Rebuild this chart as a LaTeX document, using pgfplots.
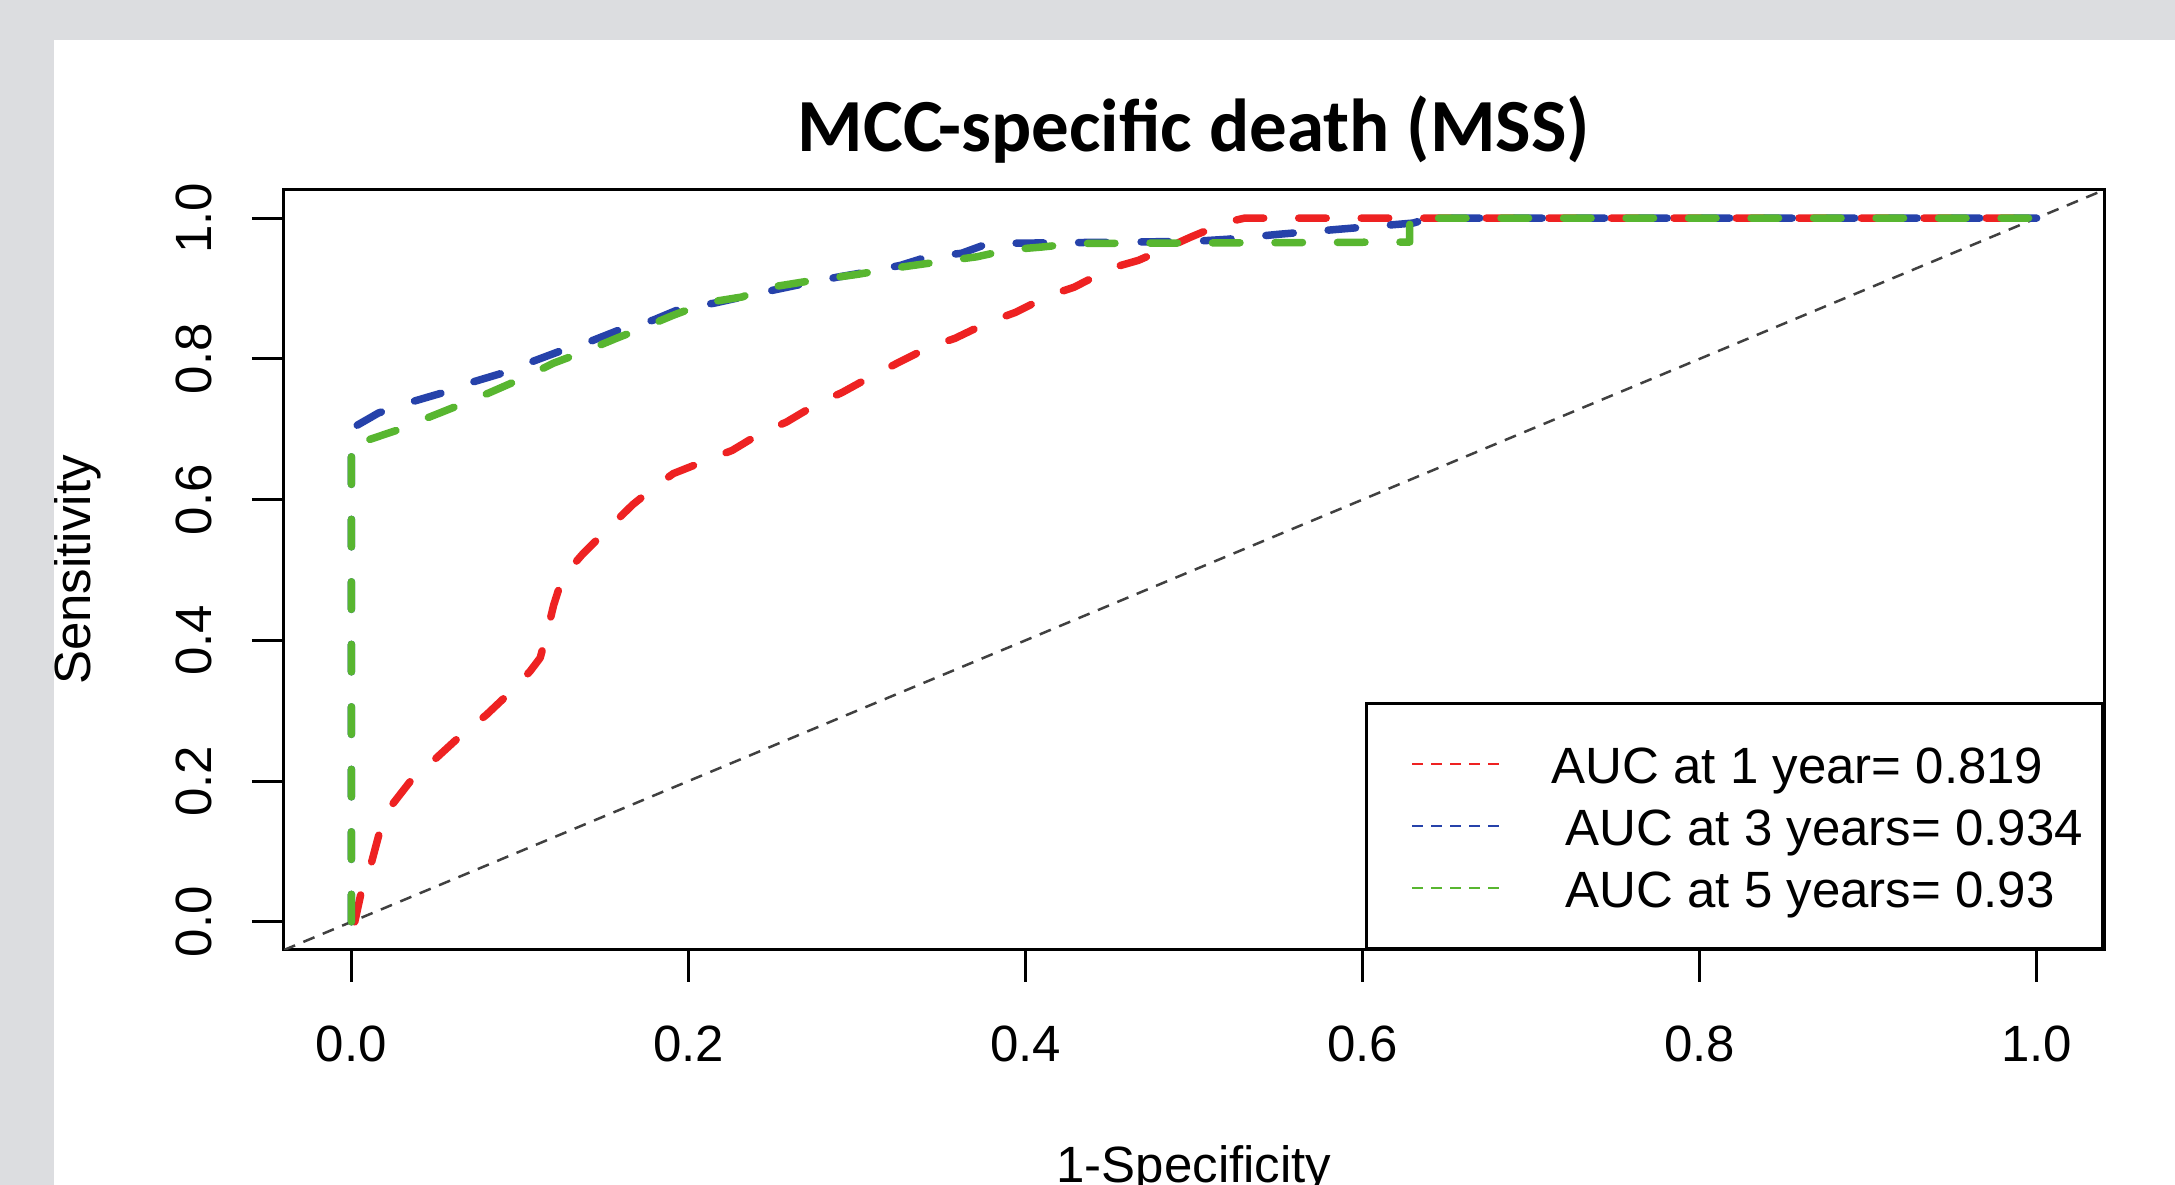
\documentclass[border=0pt]{standalone}
\usepackage{fontspec}
\setmainfont{Liberation Sans}
\newfontfamily\titlefont{Carlito}
\usepackage{pgfplots}
\pgfplotsset{compat=1.18}

\definecolor{rocred}{RGB}{238,34,34}
\definecolor{rocblue}{RGB}{38,66,170}
\definecolor{rocgreen}{RGB}{88,182,48}
\definecolor{panelgray}{RGB}{220,221,224}

\begin{document}
\begin{tikzpicture}[font=\fontsize{10.2}{12}\selectfont]
\useasboundingbox (-56.8pt,-47pt) rectangle (378.2pt,190pt);
\clip (-56.8pt,-47pt) rectangle (378.2pt,190pt);
\fill[white] (-56.8pt,-47pt) rectangle (378.2pt,190pt);
\begin{axis}[
  at={(0,0)}, anchor=south west,
  scale only axis, width=364pt, height=152pt,
  xmin=-0.04, xmax=1.04, ymin=-0.04, ymax=1.04,
  xtick={0,0.2,0.4,0.6,0.8,1}, ytick={0,0.2,0.4,0.6,0.8,1},
  xticklabels={0.0,0.2,0.4,0.6,0.8,1.0},
  yticklabels={0.0,0.2,0.4,0.6,0.8,1.0},
  xtick pos=left, ytick pos=left,
  tick align=outside, major tick length=6.4pt,
  tick style={black, line width=0.6pt},
  axis line style={line width=0.6pt},
  xticklabel style={anchor=base},
  yticklabel style={rotate=90, anchor=base},
  xticklabel shift=16pt,
  yticklabel shift=8pt,
  title={MCC-specific death (MSS)},
  title style={at={(axis description cs:0.5,1)}, anchor=base, yshift=1.6pt,
    font=\titlefont\bfseries\fontsize{15}{16}\selectfont},
  xlabel={1-Specificity}, ylabel={Sensitivity},
  every axis x label/.style={at={(axis description cs:0.5,0)}, anchor=base, yshift=-46.5pt},
  every axis y label/.style={at={([xshift=-38.7pt]axis description cs:0,0.5)}, rotate=90, anchor=base},
  legend style={at={(rel axis cs:1,0)}, anchor=south east, draw=black, line width=0.6pt,
    fill=white, inner xsep=0pt, inner ysep=5.9pt, row sep=0pt,
    /tikz/every odd column/.append style={column sep=8.8pt},
    nodes={inner sep=0pt, text height=10.2pt, text depth=2.2pt}},
  legend cell align=left,
  legend image code/.code={
    \path[draw=none] (0pt,0pt) (9.2pt,0pt);
    \draw[#1, line width=0.45pt, dash pattern=on 2.2pt off 1.6pt, line cap=butt]
      (9.2pt,0pt) -- (28pt,0pt);},
  every axis plot/.append style={line width=1.5pt, dash pattern=on 5.5pt off 7pt,
    line cap=round, line join=round},
]
% reference diagonal
\addplot[black!75, line width=0.5pt, dash pattern=on 2.4pt off 1.8pt, line cap=butt, forget plot]
  coordinates {(-0.04,-0.04) (1.04,1.04)};

% 1 year
\addplot[rocred] coordinates {
  (0.002,0) (0.006,0.044) (0.012,0.085) (0.017,0.130) (0.024,0.166) (0.037,0.206)
  (0.050,0.232) (0.065,0.265) (0.080,0.294) (0.095,0.328) (0.106,0.356) (0.112,0.375)
  (0.116,0.410) (0.120,0.450) (0.124,0.480) (0.129,0.500) (0.137,0.522) (0.152,0.558)
  (0.167,0.593) (0.180,0.618) (0.191,0.637) (0.211,0.656) (0.226,0.670) (0.244,0.696)
  (0.258,0.710) (0.277,0.737) (0.291,0.752) (0.310,0.777) (0.324,0.794) (0.343,0.817)
  (0.358,0.829) (0.378,0.852) (0.394,0.866) (0.414,0.890) (0.429,0.902) (0.451,0.929)
  (0.467,0.940) (0.486,0.960) (0.498,0.973) (0.519,0.994) (0.530,1.000) (1.000,1.000)
};
\addlegendentry{\makebox[110.2pt][l]{AUC at 1 year= 0.819}}

% 3 years
\addplot[rocblue] coordinates {
  (0,0) (0,0.701) (0.016,0.723) (0.033,0.737) (0.053,0.751) (0.069,0.765) (0.090,0.780)
  (0.106,0.795) (0.125,0.812) (0.143,0.826) (0.161,0.843) (0.179,0.855) (0.197,0.873)
  (0.215,0.879) (0.232,0.888) (0.251,0.898) (0.269,0.907) (0.288,0.916) (0.305,0.923)
  (0.326,0.933) (0.342,0.945) (0.362,0.950) (0.378,0.964) (0.420,0.965) (0.500,0.967)
  (0.520,0.970) (0.550,0.977) (0.590,0.985) (0.630,0.993) (0.640,1.000) (1.000,1.000)
};
\addlegendentry{\makebox[110.2pt][l]{\hspace*{2.8pt}AUC at 3 years= 0.934}}

% 5 years
\addplot[rocgreen] coordinates {
  (0,0) (0,0.684) (0.009,0.684) (0.030,0.701) (0.046,0.717) (0.068,0.738) (0.082,0.752)
  (0.103,0.774) (0.120,0.794) (0.140,0.812) (0.157,0.829) (0.174,0.845) (0.191,0.862)
  (0.211,0.880) (0.232,0.888) (0.244,0.900) (0.270,0.910) (0.300,0.920) (0.325,0.930)
  (0.355,0.940) (0.371,0.945) (0.390,0.955) (0.410,0.959) (0.430,0.964) (0.628,0.966)
  (0.628,1.000) (1.000,1.000)
};
\addlegendentry{\makebox[110.2pt][l]{\hspace*{2.8pt}AUC at 5 years= 0.93}}
\end{axis}
\fill[panelgray] (-56.8pt,182pt) rectangle (378.2pt,190pt);
\fill[panelgray] (-56.8pt,-47pt) rectangle (-46pt,190pt);
\end{tikzpicture}
\end{document}
